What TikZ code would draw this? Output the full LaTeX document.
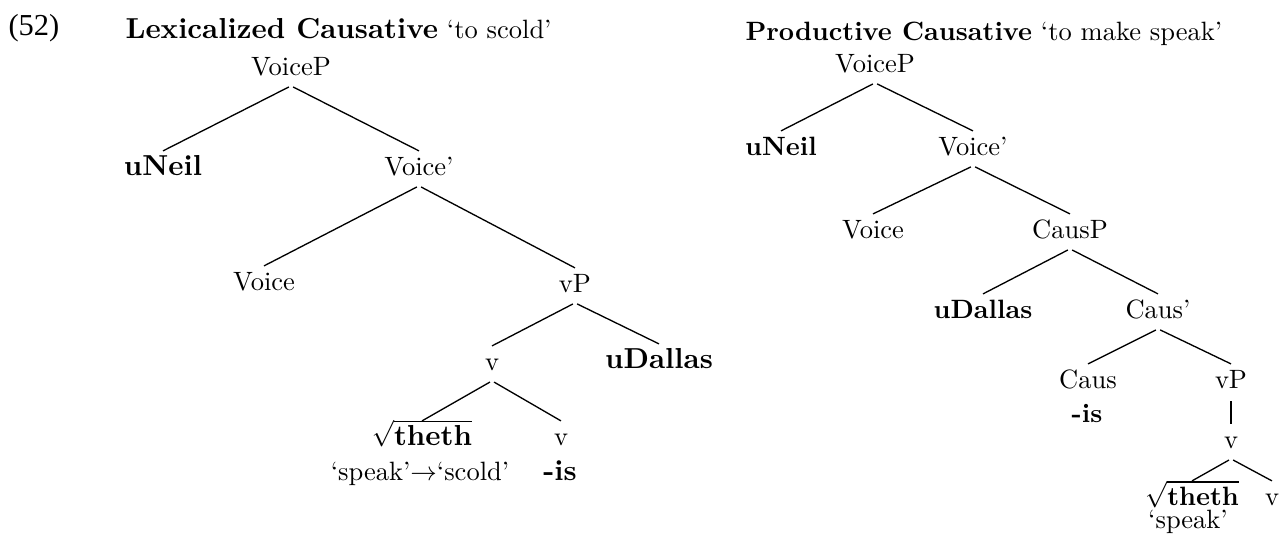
\documentclass[tikz,border=0pt]{standalone}
\usepackage{fontspec}
\newfontfamily\exnumfont{Liberation Serif}
\newcommand\bigbf[1]{{\fontsize{10.9}{13}\selectfont\bfseries #1}}

\begin{document}
\begin{tikzpicture}[x=0.3774pt,y=-0.3774pt,
    lbl/.style={anchor=base,inner xsep=0pt,inner ysep=1.9pt,text height=7pt,text depth=2pt},
    branch/.style={line width=0.5pt,shorten <=0.9pt}]
      \useasboundingbox (0,0) rectangle (1280,539);

      % Example number and headings
      \node[anchor=base west,inner sep=0pt,font=\exnumfont\fontsize{11.5}{13}\selectfont] (exnum) at (8,35) {(52)};
      \node[anchor=base west,inner sep=0pt] (lexhead) at (125,38) {\bigbf{Lexicalized Causative} `to scold'};
      \node[anchor=base west,inner sep=0pt] (prodhead) at (745,40) {\textbf{Productive Causative} `to make speak'};

      % ==== Lexicalized tree ====
      \node[lbl] (lvoicep) at (291,75) {VoiceP};
      \node[lbl] (lneil) at (163,175) {\bigbf{uNeil}};
      \node[lbl] (lvoicebar) at (419,175) {Voice'};
      \node[lbl] (lvoice) at (264,290) {Voice};
      \node[lbl] (lvp) at (575,292) {vP};
      \node[lbl] (lv) at (492,370) {v};
      \node[lbl] (ldallas) at (659,368) {\bigbf{uDallas}};
      \node[lbl] (lroot) at (422,445) {$\sqrt{\mbox{\bigbf{theth}}}$};
      \node[lbl] (lvhead) at (561,445) {v};
      \node[lbl] (lgloss) at (420,480) {`speak'$\rightarrow$`scold'};
      \node[lbl] (lis) at (560,480) {\bigbf{-is}};

      \draw[branch] (lvoicep.south) -- (lneil.north);
      \draw[branch] (lvoicep.south) -- (lvoicebar.north);
      \draw[branch] (lvoicebar.south) -- (lvoice.north);
      \draw[branch] (lvoicebar.south) -- (lvp.north);
      \draw[branch] (lvp.south) -- (lv.north);
      \draw[branch] (lvp.south) -- (ldallas.north);
      \draw[branch] (lv.south) -- (lroot.north);
      \draw[branch] (lv.south) -- (lvhead.north);

      % ==== Productive tree ====
      \node[lbl] (rvoicep) at (875,72) {VoiceP};
      \node[lbl] (rneil) at (781,155) {\textbf{uNeil}};
      \node[lbl] (rvoicebar) at (973,155) {Voice'};
      \node[lbl] (rvoice) at (873,238) {Voice};
      \node[lbl] (rcausp) at (1070,238) {CausP};
      \node[lbl] (rdallas) at (983,318) {\textbf{uDallas}};
      \node[lbl] (rcausbar) at (1158,318) {Caus'};
      \node[lbl] (rcaus) at (1088,388) {Caus};
      \node[lbl] (ris) at (1087,422) {\textbf{-is}};
      \node[lbl] (rvp) at (1231,388) {vP};
      \node[lbl] (rv) at (1231,448) {v};
      \node[lbl] (rroot) at (1192,505) {$\sqrt{\textbf{theth}}$};
      \node[lbl] (rvhead) at (1272,505) {v};
      \node[lbl] (rgloss) at (1188,528) {`speak'};

      \draw[branch] (rvoicep.south) -- (rneil.north);
      \draw[branch] (rvoicep.south) -- (rvoicebar.north);
      \draw[branch] (rvoicebar.south) -- (rvoice.north);
      \draw[branch] (rvoicebar.south) -- (rcausp.north);
      \draw[branch] (rcausp.south) -- (rdallas.north);
      \draw[branch] (rcausp.south) -- (rcausbar.north);
      \draw[branch] (rcausbar.south) -- (rcaus.north);
      \draw[branch] (rcausbar.south) -- (rvp.north);
      \draw[branch] (rvp.south) -- (rv.north);
      \draw[branch] (rv.south) -- (rroot.north);
      \draw[branch] (rv.south) -- (rvhead.north);

\end{tikzpicture}
\end{document}
